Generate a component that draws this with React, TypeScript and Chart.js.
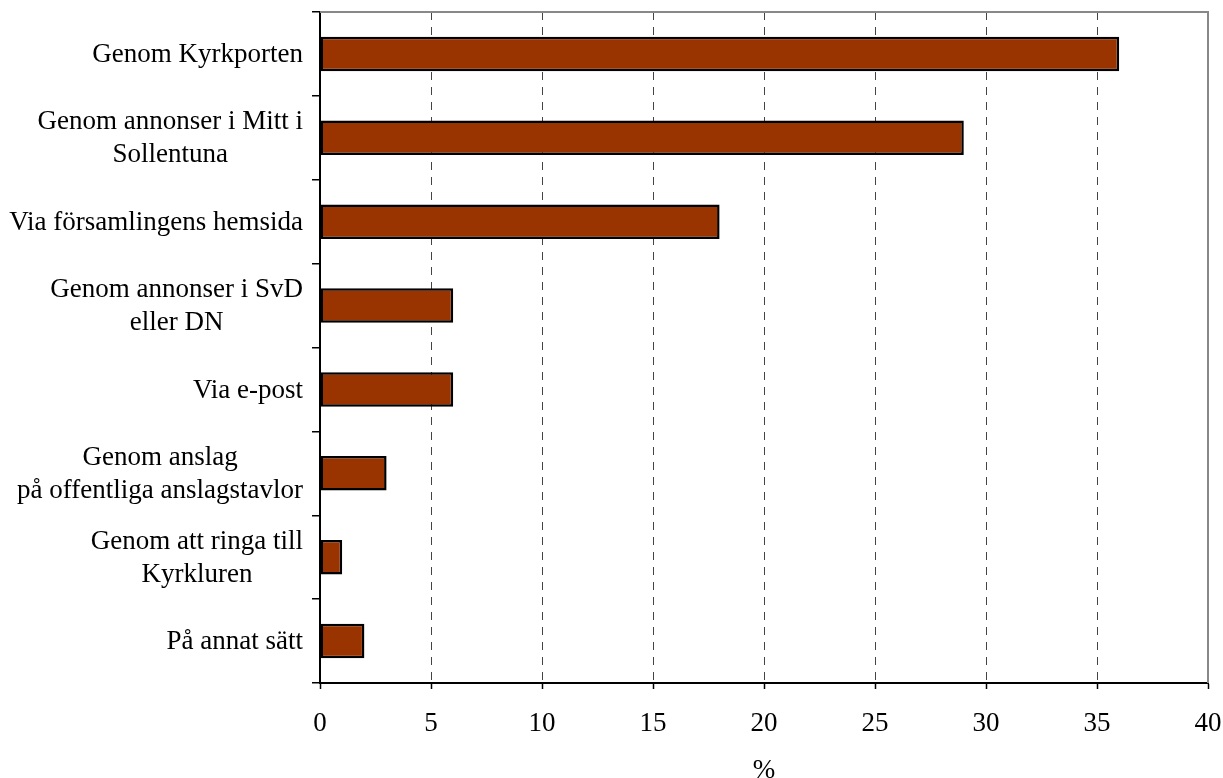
import React, { useEffect, useRef } from "react";
import { Chart, registerables } from "chart.js";

Chart.register(...registerables);

const categories: (string | string[])[] = [
  "Genom Kyrkporten",
  ["Genom annonser i Mitt i", "Sollentuna"],
  "Via församlingens hemsida",
  ["Genom annonser i SvD", "eller DN"],
  "Via e-post",
  ["Genom anslag", "på offentliga anslagstavlor"],
  ["Genom att ringa till", "Kyrkluren"],
  "På annat sätt",
];
const values: number[] = [36, 29, 18, 6, 6, 3, 1, 2];
const xTicks: number[] = [0, 5, 10, 15, 20, 25, 30, 35, 40];
const xTitle = "%";

const FONT = "'Liberation Serif', 'Times New Roman', serif";
const FONT_SIZE = 27;

const labelPlugin = {
  id: "centeredLabels",
  afterDraw(chart: any) {
    const { ctx, chartArea } = chart;
    const yScale = chart.scales.y;
    ctx.save();
    // frame top and right (gray)
    ctx.strokeStyle = "#888888";
    ctx.lineWidth = 2;
    ctx.beginPath();
    ctx.moveTo(chartArea.left, chartArea.top);
    ctx.lineTo(chartArea.right, chartArea.top);
    ctx.lineTo(chartArea.right, chartArea.bottom);
    ctx.stroke();

    ctx.font = `${FONT_SIZE}px ${FONT}`;
    ctx.fillStyle = "#000";
    ctx.textBaseline = "middle";
    ctx.textAlign = "center";
    const rightEdge = chartArea.left - 17;
    const lh = 33;
    categories.forEach((lab, i) => {
      const lines = Array.isArray(lab) ? lab : [lab];
      const w = Math.max(...lines.map((l) => ctx.measureText(l).width));
      const cx = rightEdge - w / 2;
      const cy = yScale.getPixelForValue(i) + 1;
      lines.forEach((l, j) => {
        ctx.fillText(l, cx, cy - ((lines.length - 1) * lh) / 2 + j * lh);
      });
    });
    ctx.restore();
  },
};

export default function App() {
  const ref = useRef<HTMLCanvasElement>(null);
  useEffect(() => {
    if (!ref.current) return;
    const chart = new Chart(ref.current, {
      type: "bar",
      data: {
        labels: categories.map((c) => (Array.isArray(c) ? c.join(" ") : c)),
        datasets: [
          {
            data: values,
            backgroundColor: "#993300",
            borderColor: "#000000",
            borderWidth: 2.5,
            borderSkipped: false,
            categoryPercentage: 1,
            barPercentage: 0.41,
          },
        ],
      },
      options: {
        indexAxis: "y",
        animation: false,
        responsive: true,
        maintainAspectRatio: false,
        layout: { padding: { top: 12, right: 15, left: 0, bottom: 0 } },
        plugins: {
          legend: { display: false },
          tooltip: { enabled: false },
        },
        scales: {
          x: {
            type: "linear",
            min: 0,
            max: 40,
            afterBuildTicks: (scale: any) => {
              scale.ticks = xTicks.map((v) => ({ value: v }));
            },
            afterFit: (scale: any) => {
              scale.height = 95;
              scale.paddingRight = 0;
              scale.paddingLeft = 0;
            },
            ticks: {
              color: "#000",
              font: { family: FONT, size: FONT_SIZE },
              padding: 19,
              maxRotation: 0,
            },
            grid: {
              color: (c: any) =>
                c.tick && (c.tick.value === 0 || c.tick.value === 40) ? "rgba(0,0,0,0)" : "#444444",
              lineWidth: 1,
              tickColor: "#000",
              tickLength: 6,
              tickWidth: 1.5,
              tickBorderDash: [],
            } as any,
            border: { color: "#000", width: 2, dash: [8, 7] },
            title: {
              display: true,
              text: xTitle,
              color: "#000",
              font: { family: FONT, size: FONT_SIZE, lineHeight: 0.5 },
              padding: 0,
            },
          },
          y: {
            type: "category",
            afterFit: (scale: any) => {
              scale.width = 320;
            },
            ticks: {
              display: false,
            },
            grid: {
              drawOnChartArea: false,
              color: "#000",
              tickLength: 8,
              lineWidth: 1.5,
              offset: true,
            },
            border: { color: "#000", width: 2 },
          },
        },
      },
      plugins: [labelPlugin],
    });
    return () => chart.destroy();
  }, []);
  return (
    <div style={{ position: "fixed", left: 0, top: 0, width: "1223px", height: "778px", background: "#fff" }}>
      <canvas ref={ref} />
    </div>
  );
}
